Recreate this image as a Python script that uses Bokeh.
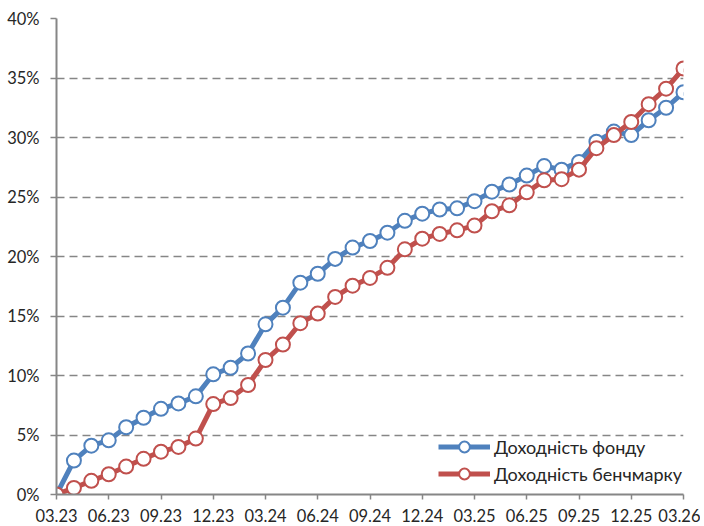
from bokeh.plotting import figure
from bokeh.embed import file_html
from bokeh.resources import INLINE
from bokeh.models import FixedTicker, Range1d, Legend, LegendItem

tick_labels = ["03.23", "06.23", "09.23", "12.23", "03.24", "06.24", "09.24",
               "12.24", "03.25", "06.25", "09.25", "12.25", "03.26"]

fund = [0.0, 2.85, 4.1, 4.55, 5.65, 6.45, 7.2, 7.65, 8.25, 10.1, 10.65, 11.85,
        14.3, 15.7, 17.8, 18.55, 19.8, 20.75, 21.3, 22.0, 23.0, 23.6, 23.95, 24.05,
        24.65, 25.45, 26.05, 26.8, 27.6, 27.3, 27.95, 29.65, 30.5, 30.2, 31.45,
        32.5, 33.8]

bench = [0.0, 0.55, 1.15, 1.7, 2.35, 3.0, 3.6, 4.0, 4.7, 7.6, 8.1, 9.2,
         11.3, 12.6, 14.4, 15.2, 16.6, 17.55, 18.2, 19.05, 20.6, 21.5, 21.9, 22.2,
         22.6, 23.8, 24.3, 25.4, 26.4, 26.5, 27.3, 29.1, 30.2, 31.3, 32.8,
         34.1, 35.8]

months = list(range(len(fund)))

FONT = "Lato"
BLUE = "#4F81BD"
RED = "#C0504D"
GRAY = "#868686"
TXT = "#262626"

p = figure(width=700, height=524, output_backend="svg", toolbar_location=None,
           x_range=Range1d(0, 36), y_range=Range1d(0, 40),
           min_border_left=56, min_border_top=18, min_border_right=17,
           min_border_bottom=30)
p.outline_line_color = None
p.background_fill_color = "white"

l1 = p.line(months, fund, line_color=BLUE, line_width=5)
s1 = p.scatter(months, fund, size=14, fill_color="white", line_color=BLUE, line_width=2)
l2 = p.line(months, bench, line_color=RED, line_width=5)
s2 = p.scatter(months, bench, size=14, fill_color="white", line_color=RED, line_width=2)

p.xaxis.ticker = FixedTicker(ticks=list(range(0, 37, 3)))
p.xaxis.major_label_overrides = {i * 3: lab for i, lab in enumerate(tick_labels)}
p.yaxis.ticker = FixedTicker(ticks=list(range(0, 41, 5)))
p.yaxis.major_label_overrides = {v: f"{v}%" for v in range(0, 41, 5)}

for ax in (p.xaxis, p.yaxis):
    ax.axis_line_color = GRAY
    ax.axis_line_width = 2
    ax.major_tick_line_color = GRAY
    ax.major_tick_line_width = 1.5
    ax.minor_tick_line_color = None
    ax.major_tick_in = 0
    ax.major_label_text_font = FONT
    ax.major_label_text_font_size = "16.5px"
    ax.major_label_text_color = TXT

p.xaxis.major_tick_out = 5
p.xaxis.major_label_standoff = 9
p.yaxis.major_tick_out = 6
p.yaxis.major_label_standoff = 11

p.xgrid.grid_line_color = None
p.ygrid.grid_line_color = GRAY
p.ygrid.grid_line_width = 1.5
p.ygrid.grid_line_dash = "8 5"

legend = Legend(items=[
    LegendItem(label="Доходність фонду", renderers=[l1, s1]),
    LegendItem(label="Доходність бенчмарку", renderers=[l2, s2]),
], location=(382, 7))
legend.border_line_color = None
legend.background_fill_alpha = 0
legend.label_text_font = FONT
legend.label_text_font_size = "18px"
legend.label_text_color = TXT
legend.glyph_width = 52
legend.glyph_height = 27
legend.label_height = 27
legend.spacing = 0
legend.padding = 2
legend.margin = 0
legend.label_standoff = 4
p.add_layout(legend)

open("out.html", "w").write(file_html(p, INLINE))
